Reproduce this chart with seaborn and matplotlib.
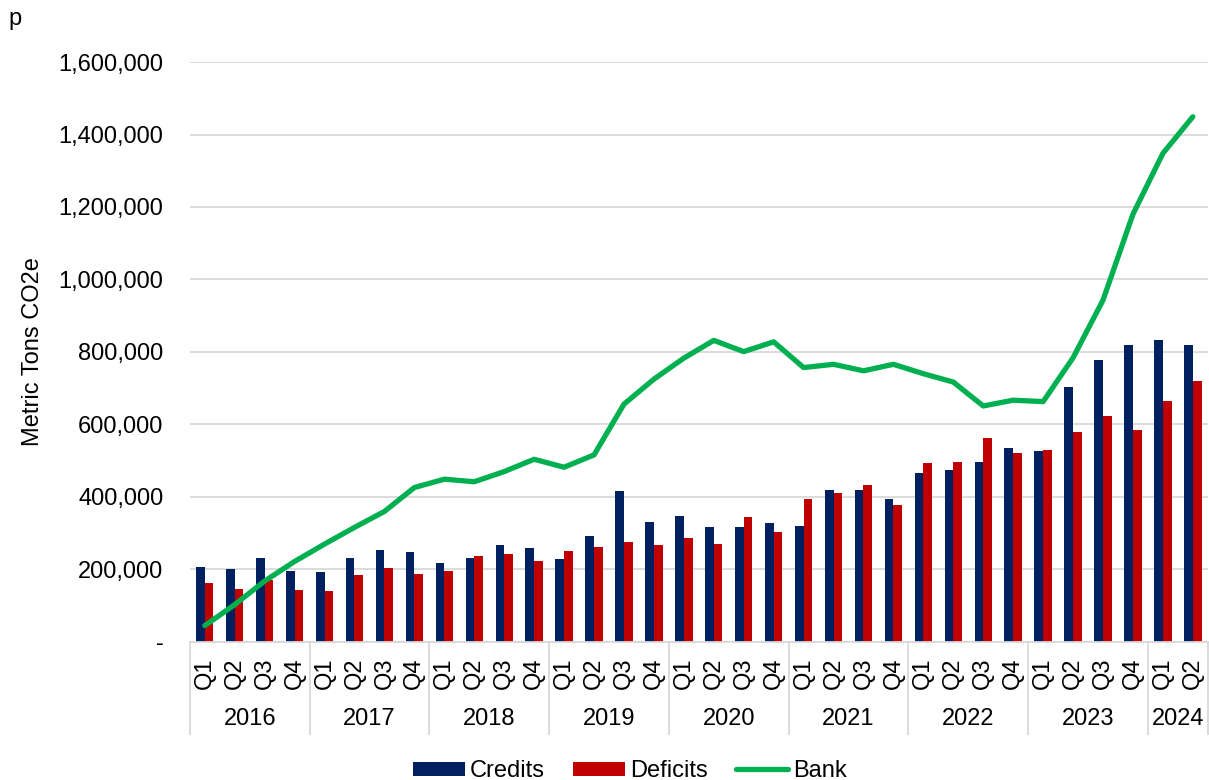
import numpy as np
import pandas as pd
import matplotlib
matplotlib.use("Agg")
import matplotlib.pyplot as plt
import matplotlib.ticker as mticker
import seaborn as sns

# Data (metric tons CO2e)
years = ['2016', '2017', '2018', '2019', '2020', '2021', '2022', '2023', '2024']
quarters = ['Q1', 'Q2', 'Q3', 'Q4'] * 8 + ['Q1', 'Q2']
credits = [208, 201, 231, 195, 193, 231, 255, 249, 219, 232, 268, 260,
           229, 293, 417, 332, 347, 317, 318, 329, 321, 418, 418, 395,
           467, 475, 497, 535, 528, 703, 777, 818, 833, 820]
deficits = [162, 145, 172, 143, 140, 185, 205, 187, 197, 236, 244, 223,
            250, 261, 275, 267, 286, 271, 346, 302, 393, 410, 434, 379,
            495, 497, 562, 521, 529, 578, 622, 584, 664, 719]
bank = [45, 103, 168, 222, 270, 316, 360, 426, 449, 442, 470, 504,
        482, 516, 656, 725, 783, 832, 801, 828, 757, 766, 748, 766,
        740, 717, 651, 667, 663, 784, 943, 1180, 1348, 1449]

n = len(quarters)
pos = np.arange(n)
year_of = [years[i // 4] for i in range(n)]

df = pd.DataFrame({
    'pos': np.concatenate([pos, pos]),
    'value': np.array(credits + deficits) * 1000,
    'series': ['Credits'] * n + ['Deficits'] * n,
})

sns.set_theme(style='white')
plt.rcParams['font.family'] = ['Liberation Sans', 'DejaVu Sans']
plt.rcParams['text.color'] = 'black'
plt.rcParams['axes.labelcolor'] = 'black'

fig = plt.figure(figsize=(12.09, 7.8), dpi=100)
ax = fig.add_axes([0.157, 0.177, 0.842, 0.7435])

sns.barplot(data=df, x='pos', y='value', hue='series',
            palette={'Credits': '#002060', 'Deficits': '#C00000'},
            width=0.58, gap=0, linewidth=0, saturation=1, ax=ax)
sns.lineplot(x=pos, y=np.array(bank) * 1000, color='#00B050', linewidth=3.8,
             label='Bank', ax=ax)

ax.set_xlim(-0.5, n - 0.5)
ax.set_ylim(0, 1600000)
ax.set_yticks(np.arange(0, 1600001, 200000))
ax.yaxis.set_major_formatter(mticker.FuncFormatter(
    lambda v, p: '-' if v == 0 else f'{v:,.0f}'))
ax.grid(axis='y', color='#D9D9D9', linewidth=1.3)
ax.set_axisbelow(True)

for s in ['top', 'right', 'left']:
    ax.spines[s].set_visible(False)
ax.spines['bottom'].set_color('#D9D9D9')
ax.spines['bottom'].set_linewidth(1.3)

ax.set_xticks(pos)
ax.set_xticklabels(quarters, rotation=90)
ax.tick_params(axis='x', length=0, pad=11, labelsize=17, colors='black')
ax.tick_params(axis='y', length=0, pad=19, labelsize=17, colors='black')
ax.set_xlabel('')
ax.set_ylabel('Metric Tons CO2e', fontsize=17, color='black')
ax.yaxis.set_label_coords(-0.143, 0.5)

# year group labels and separators
xtr = ax.get_xaxis_transform()
bounds = [-0.5] + [i * 4 + 3.5 for i in range(8)] + [n - 0.5]
ax.vlines(bounds, -0.16, 0, transform=xtr, colors='#D9D9D9',
          linewidth=1.3, clip_on=False)
for i, yr in enumerate(years):
    idx = [k for k in range(n) if year_of[k] == yr]
    ax.text(np.mean(idx), -0.133, yr, transform=xtr, ha='center',
            va='center', fontsize=17, color='black')

handles, labels = ax.get_legend_handles_labels()
if ax.get_legend() is not None:
    ax.get_legend().remove()
fig.legend(handles, labels, loc='lower center', bbox_to_anchor=(0.521, -0.03),
           ncol=3, frameon=False, fontsize=17, handlelength=2.2,
           handleheight=0.55, columnspacing=1.2, handletextpad=0.2)

fig.text(0.007, 0.968, 'p', fontsize=17, va='baseline', color='black')

fig.savefig('out.png', dpi=100)
